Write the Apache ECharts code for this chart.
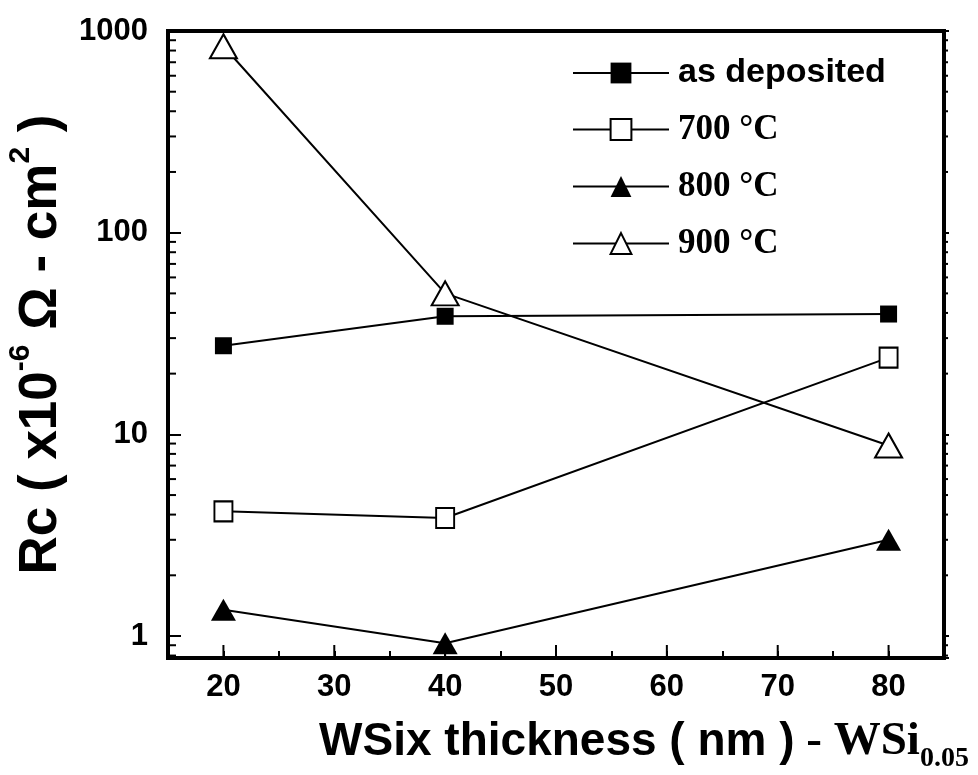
<!DOCTYPE html>
<html><head><meta charset="utf-8">
<script src="https://cdn.jsdelivr.net/npm/echarts@6/dist/echarts.min.js"></script>
<style>html,body{margin:0;padding:0;background:#fff}#c{width:978px;height:775px}</style>
</head><body><div id="c"></div>
<script>
// ---- data ----
const thickness = [20, 40, 80];
const asDeposited = [27.5, 38.5, 39.5];
const c700 = [4.15, 3.85, 24];
const c800 = [1.35, 0.92, 3.0];
const c900 = [840, 50, 8.8];
const seriesNames = ['as deposited', '700 °C', '800 °C', '900 °C'];
const yMajorLabels = [1, 10, 100, 1000];
const yMinorTicks = [0.8, 0.9, 2, 3, 4, 5, 6, 7, 8, 9, 20, 30, 40, 50, 60, 70, 80, 90, 200, 300, 400, 500, 600, 700, 800, 900];
const xMajorTicks = [20, 30, 40, 50, 60, 70, 80];
const X_MIN = 15, X_MAX = 85, Y_MIN = 0.778, Y_MAX = 1000;

const pair = (ys) => thickness.map((x, i) => [x, ys[i]]);
const black = '#000';

const chart = echarts.init(document.getElementById('c'), null, {renderer: 'canvas'});
const option = {
  animation: false,
  backgroundColor: '#fff',
  grid: {left: 168, right: 34, top: 31, bottom: 117, show: true, borderColor: black, borderWidth: 4,
         containLabel: false, outerBoundsMode: 'none'},
  legend: {
    data: seriesNames,
    orient: 'vertical', left: 572, top: 56, padding: 0,
    itemWidth: 96, itemHeight: 26, itemGap: 22,
    formatter: (n) => n === 'as deposited' ? '{s|as deposited}' : '{t|' + n + '}',
    textStyle: {
      color: black, padding: [0, 0, 0, 4],
      rich: {
        s: {fontFamily: 'Liberation Sans', fontWeight: 'bold', fontSize: 34, color: black, lineHeight: 30},
        t: {fontFamily: 'Liberation Serif', fontWeight: 'bold', fontSize: 35, color: black, lineHeight: 30}
      }
    }
  },
  xAxis: [{
    type: 'value', min: X_MIN, max: X_MAX, interval: 5,
    axisLine: {lineStyle: {color: black, width: 4}},
    axisTick: {inside: true, length: 7, lineStyle: {color: black, width: 2}},
    splitLine: {show: false},
    axisLabel: {
      formatter: (v) => xMajorTicks.indexOf(v) >= 0 ? String(v) : '',
      fontFamily: 'Liberation Sans', fontWeight: 'bold', fontSize: 31, color: black, margin: 14
    },
    name: '{a|WSix thickness ( nm )}{b| - WSi}{c|0.05}',
    nameLocation: 'middle', nameGap: 59,
    nameTextStyle: {
      padding: [0, 0, 0, 176],
      rich: {
        a: {fontFamily: 'Liberation Sans', fontWeight: 'bold', fontSize: 46, color: black, lineHeight: 50, verticalAlign: 'middle'},
        b: {fontFamily: 'Liberation Serif', fontWeight: 'bold', fontSize: 47, color: black, lineHeight: 50, verticalAlign: 'middle'},
        c: {fontFamily: 'Liberation Serif', fontWeight: 'bold', fontSize: 28, color: black, lineHeight: 26, padding: [34, 0, 0, 0]}
      }
    }
  }, {
    type: 'value', position: 'top', min: X_MIN, max: X_MAX, interval: 5,
    axisLine: {lineStyle: {color: black, width: 4}},
    axisTick: {show: false}, axisLabel: {show: false}, splitLine: {show: false}
  }],
  yAxis: [{
    type: 'log', logBase: 10, min: Y_MIN, max: Y_MAX,
    axisLine: {lineStyle: {color: black, width: 4}},
    axisTick: {inside: true, length: 13, lineStyle: {color: black, width: 2}},
    minorTick: {show: false},
    splitLine: {show: false},
    axisLabel: {
      showMinLabel: false,
      formatter: (v) => {
        const r = Math.round(v);
        return yMajorLabels.indexOf(r) >= 0 && Math.abs(v - r) < 0.01 ? String(r) : '';
      },
      fontFamily: 'Liberation Sans', fontWeight: 'bold', fontSize: 31, color: black, margin: 20
    },
    name: '{a|Rc ( x10}{s|-6}{a| Ω - cm}{s|2}{a| )}',
    nameLocation: 'middle', nameGap: 92,
    nameTextStyle: {
      rich: {
        a: {fontFamily: 'Liberation Sans', fontWeight: 'bold', fontSize: 53, color: black, lineHeight: 58, verticalAlign: 'bottom'},
        s: {fontFamily: 'Liberation Sans', fontWeight: 'bold', fontSize: 30, color: black, lineHeight: 30, padding: [0, 0, 32, 0], verticalAlign: 'bottom'}
      }
    }
  }, {
    type: 'log', logBase: 10, min: Y_MIN, max: Y_MAX, position: 'right',
    axisLine: {lineStyle: {color: black, width: 4}},
    axisTick: {inside: false, length: 5, lineStyle: {color: black, width: 2}},
    axisLabel: {show: false}, splitLine: {show: false}, minorTick: {show: false}
  }],
  series: [
    {
      name: 'ticks-y', type: 'custom', silent: true, xAxisIndex: 0, yAxisIndex: 0,
      data: yMinorTicks.map(v => [X_MIN, v]),
      renderItem: (params, api) => {
        const cs = params.coordSys;
        const y = api.coord([X_MIN, api.value(1)])[1];
        return {type: 'group', children: [
          {type: 'line', shape: {x1: cs.x, y1: y, x2: cs.x + 8, y2: y}, style: {stroke: black, lineWidth: 2}},
          {type: 'line', shape: {x1: cs.x + cs.width, y1: y, x2: cs.x + cs.width + 4, y2: y}, style: {stroke: black, lineWidth: 2}}
        ]};
      }
    },
    {
      name: 'ticks-x', type: 'custom', silent: true, xAxisIndex: 0, yAxisIndex: 0,
      data: xMajorTicks.map(v => [v, 1]),
      renderItem: (params, api) => {
        const cs = params.coordSys;
        const x = api.coord([api.value(0), 1])[0];
        const yb = cs.y + cs.height;
        return {type: 'line', shape: {x1: x, y1: yb, x2: x, y2: yb - 13}, style: {stroke: black, lineWidth: 2}};
      }
    },
    {
      name: seriesNames[0], type: 'line', data: pair(asDeposited),
      symbol: 'rect', symbolSize: 17,
      itemStyle: {color: black}, lineStyle: {color: black, width: 2}
    },
    {
      name: seriesNames[1], type: 'line', data: pair(c700),
      symbol: 'rect', symbolSize: [18, 20],
      itemStyle: {color: '#fff', borderColor: black, borderWidth: 2}, lineStyle: {color: black, width: 2}
    },
    {
      name: seriesNames[2], type: 'line', data: pair(c800),
      symbol: 'triangle', symbolSize: [25, 22],
      itemStyle: {color: black}, lineStyle: {color: black, width: 2}
    },
    {
      name: seriesNames[3], type: 'line', data: pair(c900),
      symbol: 'triangle', symbolSize: [27, 24],
      itemStyle: {color: '#fff', borderColor: black, borderWidth: 2}, lineStyle: {color: black, width: 2}
    }
  ]
};
chart.setOption(option);
</script>
</body></html>
